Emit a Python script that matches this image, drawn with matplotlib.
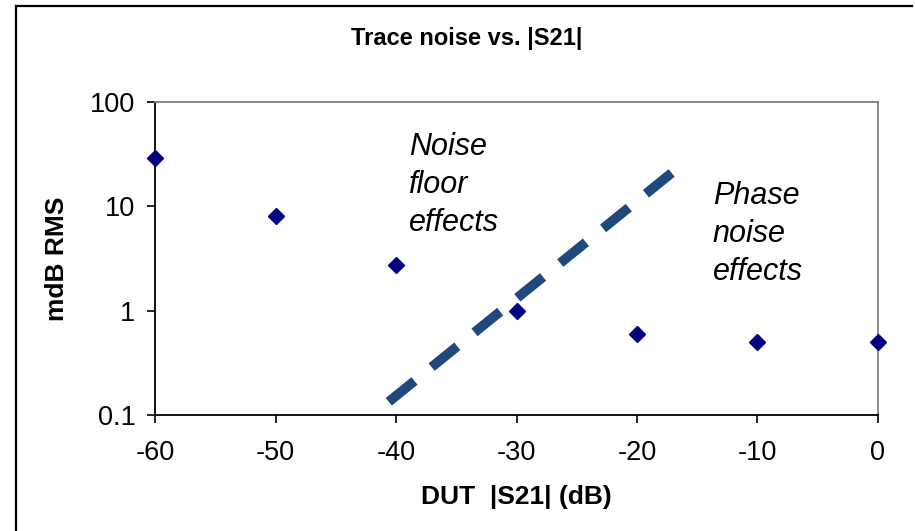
import matplotlib
matplotlib.use("Agg")
import matplotlib.pyplot as plt
from matplotlib.lines import Line2D

plt.rcParams['font.family'] = ['Liberation Sans', 'DejaVu Sans']

# Measured trace noise at each DUT |S21| setting
s21_db = [-60, -50, -40, -30, -20, -10, 0]
noise_mdb = [29, 8, 2.75, 1.0, 0.6, 0.5, 0.5]

# Noise-floor trend line endpoints
trend_x = [-40.6, -17.1]
trend_y = [0.134, 21.0]

x_ticks = [-60, -50, -40, -30, -20, -10, 0]
y_ticks = [0.1, 1, 10, 100]
y_ticklabels = ['0.1', '1', '10', '100']

fig = plt.figure(figsize=(9.15, 5.31), dpi=100)
ax = fig.add_axes([155 / 915, 1 - 415 / 531, (878 - 155) / 915, (415 - 102) / 531])

ax.plot(s21_db, noise_mdb, linestyle='none', marker='D', markersize=8,
        color='#000080', markeredgecolor='#000080', zorder=3, clip_on=False)

trend = ax.plot(trend_x, trend_y, color='#1F497D', linewidth=7,
                dash_capstyle='butt', zorder=2)[0]
trend.set_dashes((3.4, 2.27))

ax.set_yscale('log')
ax.set_xlim(-60, 0)
ax.set_ylim(0.1, 100)
ax.set_xticks(x_ticks)
ax.set_xticklabels([str(v) for v in x_ticks])
ax.set_yticks(y_ticks)
ax.set_yticklabels(y_ticklabels)
ax.minorticks_off()
ax.tick_params(axis='both', direction='out', length=6, width=1.2,
               labelsize=19.5, color='black')
ax.tick_params(axis='x', pad=12)
ax.tick_params(axis='y', pad=8)

for side in ('left', 'bottom'):
    ax.spines[side].set_color('black')
    ax.spines[side].set_linewidth(1.3)
for side in ('top', 'right'):
    ax.spines[side].set_color('#808080')
    ax.spines[side].set_linewidth(1.3)

ax.set_xlabel('DUT  |S21| (dB)', fontsize=19, fontweight='bold', labelpad=14)
ax.set_ylabel('mdB RMS', fontsize=19, fontweight='bold', labelpad=15)

fig.text(467 / 915, 1 - 38 / 531, 'Trace noise vs. |S21|', ha='center', va='center',
         fontsize=17, fontweight='bold')

ax.text(-38.9, 52, 'Noise\nfloor\neffects', fontsize=22, fontstyle='italic',
        va='top', ha='left', linespacing=1.35)
ax.text(-13.7, 17.5, 'Phase\nnoise\neffects', fontsize=22, fontstyle='italic',
        va='top', ha='left', linespacing=1.35)

# Outer chart frame (left and top edges)
fig.add_artist(Line2D([16 / 915, 16 / 915], [0, 1 - 6 / 531], transform=fig.transFigure,
                      color='black', linewidth=1.6))
fig.add_artist(Line2D([16 / 915, 912 / 915], [1 - 6 / 531, 1 - 6 / 531],
                      transform=fig.transFigure, color='black', linewidth=1.6))

fig.savefig('out.png', dpi=100)
